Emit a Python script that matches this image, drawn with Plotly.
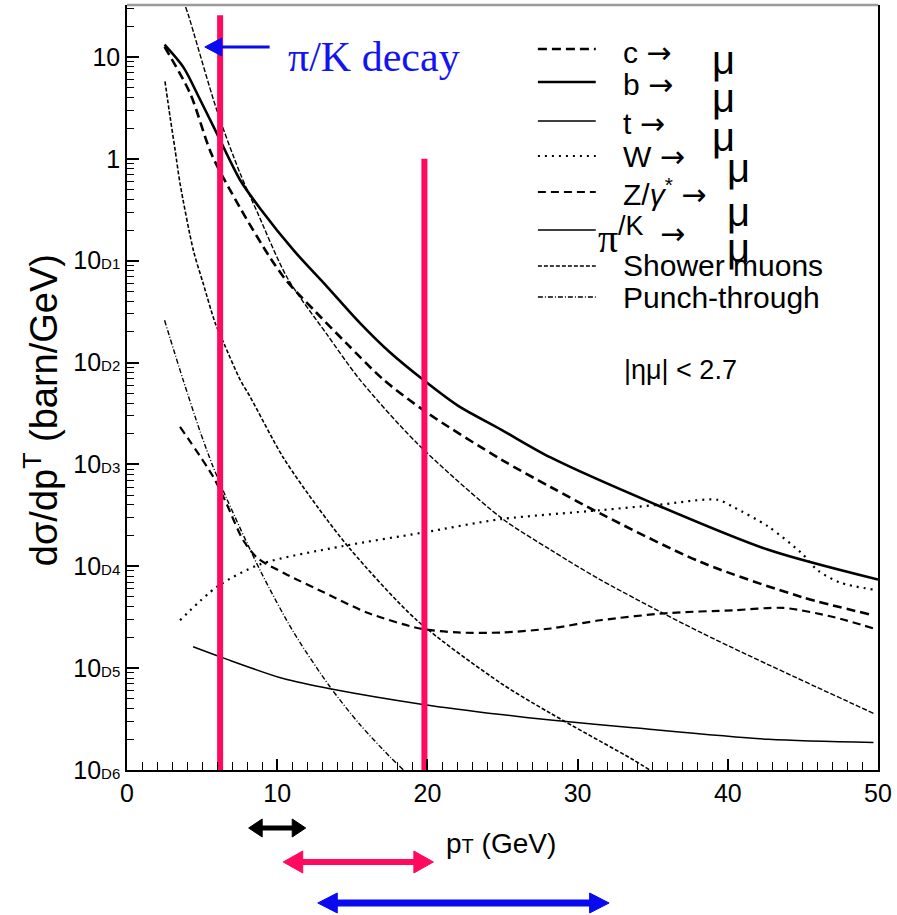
import plotly.graph_objects as go

# ---------------- data ----------------
pt_c = [2.5, 4.2, 5.64, 7.53, 9.53, 10.64, 12.6, 14.6, 17.07, 20.0, 24.9, 28.2, 31.5, 38.2, 44.9, 49.7]
c_mu = [12.6, 4.4, 1.1, 0.33, 0.107, 0.063, 0.031, 0.0155, 6.8e-3, 3.2e-3, 1.12e-3, 6.0e-4, 3.3e-4, 1.1e-4, 5.0e-5, 3.3e-5]

pt_b = [2.5, 3.76, 4.87, 5.98, 7.53, 8.9, 11.1, 13.3, 15.5, 17.5, 19.7, 22.0, 24.9, 28.2, 35.1, 42.7, 50.0]
b_mu = [13.2, 7.9, 3.8, 1.78, 0.62, 0.32, 0.126, 0.056, 0.0245, 0.0126, 6.8e-3, 3.8e-3, 2.2e-3, 1.17e-3, 4.1e-4, 1.45e-4, 7.4e-5]

pt_t = [4.4, 6.4, 10.4, 13.7, 19.7, 24.9, 28.2, 33.7, 42.7, 49.7]
t_mu = [1.62e-5, 1.26e-5, 7.9e-6, 6.2e-6, 4.4e-6, 3.5e-6, 3.1e-6, 2.6e-6, 2.0e-6, 1.86e-6]

pt_w = [3.53, 6.0, 8.9, 14.4, 19.7, 24.9, 31.5, 35.3, 39.3, 40.4, 42.7, 44.9, 46.0, 47.5, 49.7]
w_mu = [2.95e-5, 6.3e-5, 1.05e-4, 1.58e-4, 2.14e-4, 2.9e-4, 3.55e-4, 4.0e-4, 4.5e-4, 3.8e-4, 2.45e-4, 1.35e-4, 9.1e-5, 6.9e-5, 5.9e-5]

pt_z = [3.53, 5.73, 6.6, 7.72, 8.7, 10.5, 13.5, 16.0, 19.5, 22.0, 25.0, 28.2, 31.5, 36.0, 40.4, 43.7, 47.1, 49.7]
z_mu = [2.34e-3, 7.6e-4, 4.2e-4, 1.82e-4, 1.2e-4, 8.5e-5, 5.2e-5, 3.5e-5, 2.45e-5, 2.24e-5, 2.24e-5, 2.45e-5, 2.95e-5, 3.47e-5, 3.7e-5, 3.9e-5, 3.16e-5, 2.45e-5]

pt_pik = [3.9, 4.09, 5.98, 7.53, 8.67, 10.67, 13.3, 15.5, 19.3, 24.9, 28.2, 31.5, 38.2, 49.7]
pik_mu = [31.0, 25.7, 3.0, 0.72, 0.30, 0.068, 0.019, 6.8e-3, 1.62e-3, 3.0e-4, 1.45e-4, 7.4e-5, 2.24e-5, 3.6e-6]

pt_shower = [2.53, 2.87, 3.2, 3.53, 4.42, 5.07, 5.87, 6.53, 7.53, 8.2, 10.4, 12.7, 14.9, 19.3, 24.9, 28.2, 33.7, 34.8]
shower_mu = [5.75, 2.57, 1.23, 0.575, 0.126, 0.060, 0.0245, 0.0145, 6.8e-3, 4.6e-3, 1.17e-3, 3.8e-4, 1.45e-4, 2.95e-5, 7.1e-6, 3.6e-6, 1.26e-6, 1.0e-6]

pt_punch = [2.5, 3.73, 4.87, 5.73, 6.67, 8.9, 11.1, 13.5, 15.5, 17.5, 18.4]
punch_mu = [0.026, 6.8e-3, 2.1e-3, 9.5e-4, 4.5e-4, 8.9e-5, 2.24e-5, 6.6e-6, 2.8e-6, 1.35e-6, 1.0e-6]

# pT cuts (red vertical bars) and their top values
cut_pt = [6.2, 19.8]
cut_top = [25.7, 1.0]

# pT ranges shown by the double arrows under the axis
range_lo = [8.1, 10.4, 12.7]
range_hi = [11.9, 20.4, 32.1]
range_col = ["black", "#FF0A5F", "#0A0AF0"]

x_ticks = [0, 10, 20, 30, 40, 50]
y_ticks = [10, 1, 1e-1, 1e-2, 1e-3, 1e-4, 1e-5, 1e-6]
y_ticktext = ["10", "1"] + ["10<span style='font-size:15px'>D%d</span>" % k for k in range(1, 7)]

ARROW = "<span style='font-family:DejaVu Sans'>\u2192</span>"
legend_labels = ["c " + ARROW, "b " + ARROW, "t " + ARROW, "W " + ARROW,
                 "Z/<i>\u03b3</i><sup>*</sup> " + ARROW, None, "Shower muons", "Punch-through"]

# ---------------- geometry ----------------
W, H = 897, 915
L, R, T, B = 127, 17, 5, 145
PW, PH = W - L - R, H - T - B


def pxx(p):
    return (p - L) / PW


def pxy(p):
    return (H - B - p) / PH


SANS = "Liberation Sans, Arial, sans-serif"
SERIF = "Liberation Serif, Times New Roman, serif"

styles = {
    "c": dict(color="black", width=2.6, dash="9px,5px"),
    "b": dict(color="black", width=2.6),
    "t": dict(color="black", width=1.5),
    "w": dict(color="black", width=2.2, dash="2px,5px"),
    "z": dict(color="black", width=2.2, dash="8px,5px"),
    "pik": dict(color="black", width=1.4, dash="5px,2px"),
    "shower": dict(color="black", width=1.6, dash="4px,2px"),
    "punch": dict(color="black", width=1.4, dash="5px,2px,1px,2px"),
}

fig = go.Figure()
series = [
    ("c", pt_c, c_mu), ("b", pt_b, b_mu), ("t", pt_t, t_mu), ("w", pt_w, w_mu),
    ("z", pt_z, z_mu), ("pik", pt_pik, pik_mu), ("shower", pt_shower, shower_mu),
    ("punch", pt_punch, punch_mu),
]
for key, xs, ys in series:
    ln = dict(styles[key])
    ln["shape"] = "spline"
    ln["smoothing"] = 0.8
    fig.add_trace(go.Scatter(x=xs, y=ys, mode="lines", line=ln, showlegend=False, hoverinfo="skip"))

for xc, top in zip(cut_pt, cut_top):
    fig.add_trace(go.Scatter(x=[xc, xc], y=[1e-6, top], mode="lines",
                             line=dict(color="#FF0A5F", width=6), showlegend=False, hoverinfo="skip"))

shapes = []
# grey top frame line
shapes.append(dict(type="line", xref="paper", yref="paper", x0=0, x1=1, y0=1, y1=1,
                   line=dict(color="#9a9a9a", width=2.5)))
# double arrows under the axis
arrow_y = [pxy(828), pxy(862), pxy(903)]
shaft_w = [5, 6, 7]
head_len = [0.9, 1.3, 1.3]
head_h = [9, 11, 10]
for lo, hi, col, yy, sw, hl, hh in zip(range_lo, range_hi, range_col, arrow_y, shaft_w, head_len, head_h):
    dh = hh / PH
    shapes.append(dict(type="line", xref="x", yref="paper", x0=lo + hl * 0.8, x1=hi - hl * 0.8, y0=yy, y1=yy,
                       line=dict(color=col, width=sw)))
    shapes.append(dict(type="path", xref="x", yref="paper", fillcolor=col, line=dict(color=col, width=1),
                       path="M %f %f L %f %f L %f %f Z" % (lo, yy, lo + hl, yy + dh, lo + hl, yy - dh)))
    shapes.append(dict(type="path", xref="x", yref="paper", fillcolor=col, line=dict(color=col, width=1),
                       path="M %f %f L %f %f L %f %f Z" % (hi, yy, hi - hl, yy + dh, hi - hl, yy - dh)))

# blue arrow pointing at the pi/K curve
ay = pxy(47)
tip = (205 - L) / PW * 50
back = (222 - L) / PW * 50
tail = (270 - L) / PW * 50
shapes.append(dict(type="line", xref="x", yref="paper", x0=back, x1=tail, y0=ay, y1=ay,
                   line=dict(color="#0A0AF0", width=3)))
shapes.append(dict(type="path", xref="x", yref="paper", fillcolor="#0A0AF0", line=dict(color="#0A0AF0", width=1),
                   path="M %f %f L %f %f L %f %f Z" % (tip, ay, back, ay + 9 / PH, back, ay - 9 / PH)))

# legend line samples
leg_y = [49, 82, 121, 156, 192, 230, 266, 297]
leg_keys = ["c", "b", "t", "w", "z", "t", "shower", "punch"]
for yy, key in zip(leg_y, leg_keys):
    ln = dict(styles[key])
    shapes.append(dict(type="line", xref="paper", yref="paper", x0=pxx(539), x1=pxx(597),
                       y0=pxy(yy), y1=pxy(yy), line=ln))

annotations = []
leg_text_y = [52, 85, 123, 157, 192, None, 265, 297]
for lab, yy in zip(legend_labels, leg_text_y):
    if lab is None:
        continue
    annotations.append(dict(xref="paper", yref="paper", x=pxx(622), y=pxy(yy), text=lab, showarrow=False,
                            xanchor="left", yanchor="middle", font=dict(family=SANS, size=30, color="black")))
# pi/K legend entry
annotations.append(dict(xref="paper", yref="paper", x=pxx(597), y=pxy(238), text="\u03c0", showarrow=False,
                        xanchor="left", yanchor="middle", font=dict(family=SERIF, size=40, color="black")))
annotations.append(dict(xref="paper", yref="paper", x=pxx(617), y=pxy(226), text="/K", showarrow=False,
                        xanchor="left", yanchor="middle", font=dict(family=SANS, size=27, color="black")))
annotations.append(dict(xref="paper", yref="paper", x=pxx(659), y=pxy(233), text=ARROW, showarrow=False,
                        xanchor="left", yanchor="middle", font=dict(family=SANS, size=30, color="black")))
# mu symbols
mu_pos = [(725, 60), (725, 98), (725, 137), (740, 168), (740, 212), (740, 248)]
for mx, my in mu_pos:
    annotations.append(dict(xref="paper", yref="paper", x=pxx(mx), y=pxy(my), text="\u03bc", showarrow=False,
                            xanchor="center", yanchor="middle", font=dict(family=SANS, size=40, color="black")))
annotations.append(dict(xref="paper", yref="paper", x=pxx(623), y=pxy(370), text="|\u03b7\u03bc| < 2.7",
                        showarrow=False, xanchor="left", yanchor="middle",
                        font=dict(family=SANS, size=27, color="black")))
annotations.append(dict(xref="paper", yref="paper", x=pxx(286), y=pxy(57), text="\u03c0/K decay",
                        showarrow=False, xanchor="left", yanchor="middle",
                        font=dict(family=SERIF, size=42, color="#1414F0")))
# axis titles
annotations.append(dict(xref="paper", yref="paper", x=pxx(445), y=pxy(843),
                        text="p<span style='font-size:20px'>T</span> (GeV)", showarrow=False,
                        xanchor="left", yanchor="middle", font=dict(family=SANS, size=28, color="black")))
annotations.append(dict(xref="paper", yref="paper", x=pxx(41), y=pxy(410),
                        text="d\u03c3/dp<sup>T</sup> (barn/GeV)", showarrow=False, textangle=-90,
                        xanchor="center", yanchor="middle", font=dict(family=SANS, size=38, color="black")))

minor_y = [m * 10 ** e for e in range(-6, 2) for m in range(2, 10)]

fig.update_layout(
    width=W, height=H, margin=dict(l=L, r=R, t=T, b=B),
    paper_bgcolor="white", plot_bgcolor="white",
    shapes=shapes, annotations=annotations, showlegend=False,
    xaxis=dict(range=[0, 50], tickvals=x_ticks, ticks="inside", ticklen=11, tickwidth=1.5, tickcolor="black",
               minor=dict(dtick=1, ticks="inside", ticklen=8, tickwidth=1, tickcolor="black"),
               showline=True, linecolor="black", linewidth=1.5, mirror=False, showgrid=False, zeroline=False,
               tickfont=dict(family=SANS, size=25, color="black")),
    yaxis=dict(type="log", range=[-6, 1.51], tickvals=y_ticks, ticktext=y_ticktext, ticks="inside",
               ticklen=12, tickwidth=1.5, tickcolor="black",
               minor=dict(tickvals=minor_y, ticks="inside", ticklen=7, tickwidth=1, tickcolor="black"),
               showline=True, linecolor="black", linewidth=1.5, mirror=True, showgrid=False, zeroline=False,
               tickfont=dict(family=SANS, size=25, color="black")),
)

fig.write_html("out.html")
